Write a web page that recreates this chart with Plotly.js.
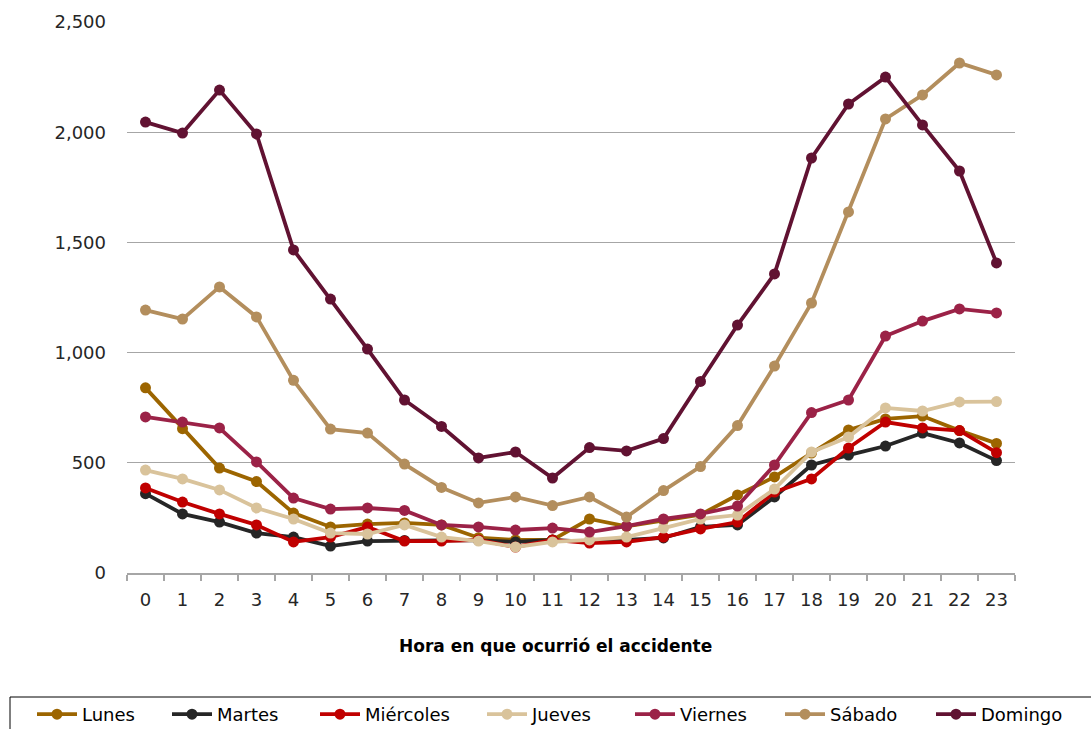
<!DOCTYPE html>
<html>
<head>
<meta charset="utf-8">
<script src="https://cdn.plot.ly/plotly-3.0.1.min.js"></script>
<style>html,body{margin:0;padding:0;background:#fff;}#chart{width:1091px;height:729px;}</style>
</head>
<body>
<div id="chart"></div>
<script>
const hours = ["0","1","2","3","4","5","6","7","8","9","10","11","12","13","14","15","16","17","18","19","20","21","22","23"];
const seriesNames = ["Lunes","Martes","Miércoles","Jueves","Viernes","Sábado","Domingo"];
const lunes     = [840,655,476,415,272,209,222,227,218,160,150,150,245,212,240,265,354,436,544,649,699,712,646,588];
const martes    = [360,268,231,181,163,122,145,148,148,148,141,150,141,150,159,209,218,345,490,535,576,635,590,510];
const miercoles = [386,322,268,218,141,163,209,145,145,150,118,150,136,141,163,200,231,367,427,567,685,658,646,546];
const jueves    = [467,427,377,295,245,181,177,218,163,145,118,141,150,163,204,245,263,381,549,617,749,735,776,778];
const viernes   = [708,685,658,504,340,290,295,284,218,209,195,204,186,213,245,268,304,490,728,785,1075,1143,1198,1180];
const sabado    = [1193,1152,1298,1162,874,653,635,494,388,318,345,306,345,254,374,483,669,939,1225,1638,2060,2169,2314,2260];
const domingo   = [2046,1996,2191,1992,1466,1243,1016,785,665,522,549,431,569,554,610,869,1125,1357,1883,2128,2250,2033,1824,1407];
const seriesValues = [lunes, martes, miercoles, jueves, viernes, sabado, domingo];
const colors = ["#9c6500","#262626","#c00000","#d9c39b","#9b2247","#b38e5d","#611232"];
const yTicks = [0,500,1000,1500,2000,2500];
const yTickLabels = ["0","500","1,000","1,500","2,000","2,500"];
const xTitle = "Hora en que ocurrió el accidente";

// layout constants (pixel positions of the legend entries' text)
const legendTextPx = [82, 217, 365, 532, 680, 830, 981];

const legendKey = i => i === 0 ? "legend" : "legend" + (i + 1);

const traces = seriesNames.map((n, i) => ({
  type: "scatter", mode: "lines+markers", name: n,
  x: hours, y: seriesValues[i], legend: legendKey(i),
  line: {color: colors[i], width: 3.8},
  marker: {color: colors[i], size: 11}
}));

const font = "DejaVu Sans, sans-serif";
const W = 1091, H = 729, L = 127, R = 76, T = 22, B = 156;
const pw = W - L - R, ph = H - T - B;
const px2x = p => (p - L) / pw;
const py2y = p => (H - B - p) / ph;

const layout = {
  width: W, height: H,
  margin: {l: L, r: R, t: T, b: B, autoexpand: false},
  paper_bgcolor: "#fff", plot_bgcolor: "#fff",
  font: {family: font, size: 18, color: "#262626"},
  showlegend: true,
  xaxis: {
    type: "category", range: [-0.5, 23.5],
    showline: true, linecolor: "#a6a6a6", linewidth: 1.5,
    ticks: "outside", tickson: "boundaries", ticklen: 6, tickcolor: "#a6a6a6", tickwidth: 1.5,
    showgrid: false, zeroline: false, ticklabelstandoff: 10,
    tickfont: {family: font, size: 18, color: "#262626"}
  },
  yaxis: {
    range: [0, 2500], tickvals: yTicks, ticktext: yTickLabels,
    showgrid: true, gridcolor: "#a6a6a6", gridwidth: 1.2,
    zeroline: false, showline: false, ticks: "", ticklabelstandoff: 20,
    tickfont: {family: font, size: 18, color: "#262626"}
  },
  annotations: [{
    text: "<b>" + xTitle + "</b>", xref: "paper", yref: "paper",
    x: px2x(555), y: py2y(646), xanchor: "center", yanchor: "middle",
    showarrow: false, font: {family: font, size: 17, color: "#000"}
  }],
  shapes: [{
    type: "rect", xref: "paper", yref: "paper",
    x0: px2x(10), x1: px2x(1110), y0: py2y(697), y1: py2y(740),
    line: {color: "#000", width: 1}, fillcolor: "rgba(0,0,0,0)", layer: "below"
  }]
};
seriesNames.forEach((n, i) => {
  layout[legendKey(i)] = {
    orientation: "h", x: px2x(legendTextPx[i] - 50), xanchor: "left", y: py2y(696), yanchor: "top",
    borderwidth: 0, bgcolor: "rgba(0,0,0,0)", itemwidth: 40,
    font: {family: font, size: 18, color: "#000"}
  };
});
Plotly.newPlot("chart", traces, layout, {displayModeBar: false, staticPlot: true});
</script>
</body>
</html>
